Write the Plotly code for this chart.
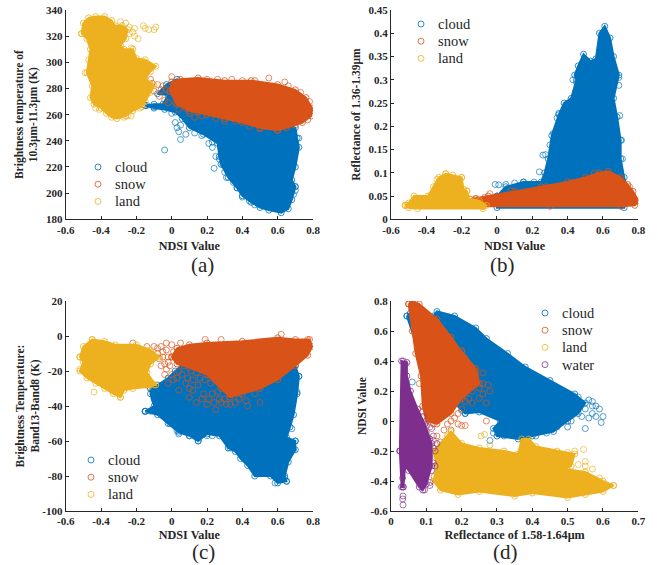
import plotly.graph_objects as go

BLUE, RED, YEL, PUR = "#0072BD", "#D95319", "#EDB120", "#7E2F8E"

# Tick labels
ndsi_ticks = ["-0.6", "-0.4", "-0.2", "0", "0.2", "0.4", "0.6", "0.8"]
a_y_ticks = ["180", "200", "220", "240", "260", "280", "300", "320", "340"]
b_y_ticks = ["0", "0.05", "0.1", "0.15", "0.2", "0.25", "0.3", "0.35", "0.4", "0.45"]
c_y_ticks = ["-100", "-80", "-60", "-40", "-20", "0", "20"]
d_x_ticks = ["0", "0.1", "0.2", "0.3", "0.4", "0.5", "0.6", "0.7"]
d_y_ticks = ["-0.6", "-0.4", "-0.2", "0", "0.2", "0.4", "0.6", "0.8"]

# Panel (a): outlines of the dense clouds and separately visible points
a_cloud_edge = [(-0.15,267),(-0.1,268),(-0.05,268),(-0.02,275),(-0.08,276),(-0.03,283),(0.03,287),(0.1,285),(0.3,270),(0.7,250),(0.71,242),(0.72,235),(0.70,220),(0.68,210),(0.70,205),(0.68,195),(0.66,188),(0.62,185),(0.55,187),(0.5,189),(0.45,193),(0.40,198),(0.37,204),(0.32,212),(0.28,222),(0.27,228),(0.26,238),(0.18,245),(0.1,250),(0.06,257),(0.02,262),(-0.04,264),(-0.1,265)]
a_cloud_pts = [(-0.04,233),(0.05,241),(0.04,247),(0.03,250),(0.05,252),(0.02,254),(0.21,238),(0.23,239),(0.23,235),(0.24,219),(0.25,228),(0.27,226),(0.29,222),(0.3,216),(0.31,212),(0.37,204),(0.4,197),(0.42,200),(0.7,205),(0.68,205),(0.72,242),(-0.14,267),(-0.1,266),(0.0,261),(0.08,245),(0.13,246),(0.17,244),(0.35,208),(0.44,194),(0.47,191),(0.7,202),(0.69,199)]
a_snow_edge = [(-0.01,278),(0.0,285),(0.05,287),(0.15,288),(0.3,286),(0.45,286),(0.6,283),(0.7,279),(0.76,273),(0.795,265),(0.79,259),(0.74,254),(0.65,250),(0.6,248),(0.5,250),(0.4,254),(0.3,257),(0.2,260),(0.1,263),(0.03,268)]
a_snow_pts = [(-0.12,287),(0.0,289),(0.1,261),(0.08,265),(0.13,258),(0.15,262),(0.04,264),(0.02,269),(-0.05,282),(-0.08,283),(-0.1,278),(-0.07,274),(-0.04,271),(-0.03,279),(0.06,273),(0.55,288),(0.64,285),(0.44,251),(0.5,249),(0.6,248),(-0.11,284),(0.17,259),(-0.06,279),(-0.02,269),(0.36,255),(0.2,287),(0.26,287),(0.34,287),(0.4,286),(0.47,286),(0.66,282),(0.73,277),(0.78,270),(0.77,256),(0.7,252),(0.25,257),(0.3,255)]
a_land_edge = [(-0.51,322),(-0.50,330),(-0.47,334),(-0.43,335),(-0.38,335),(-0.34,332),(-0.32,328),(-0.28,328),(-0.25,325),(-0.26,318),(-0.29,313),(-0.27,310),(-0.22,310),(-0.2,303),(-0.15,302),(-0.09,297),(-0.12,293),(-0.15,288),(-0.10,282),(-0.12,277),(-0.15,270),(-0.17,266),(-0.22,263),(-0.26,259),(-0.31,257),(-0.34,258),(-0.37,261),(-0.40,265),(-0.44,268),(-0.46,273),(-0.45,282),(-0.48,292),(-0.47,302),(-0.46,310),(-0.48,318)]
a_land_pts = [(-0.16,328),(-0.15,326),(-0.13,325),(-0.1,325),(-0.09,327),(-0.19,318),(-0.22,323),(-0.24,327),(-0.21,326),(-0.26,330),(-0.29,331),(-0.23,311),(-0.27,258),(-0.23,259),(-0.25,259),(-0.43,265),(-0.41,264),(-0.21,320),(-0.24,322),(-0.49,292),(-0.12,283),(-0.18,265)]

# Panel (b)
b_cloud_edge = [(0,0.05),(0.05,0.07),(0.15,0.08),(0.25,0.08),(0.27,0.1),(0.29,0.13),(0.31,0.18),(0.35,0.225),(0.38,0.25),(0.42,0.26),(0.45,0.3),(0.44,0.31),(0.46,0.33),(0.49,0.355),(0.53,0.34),(0.56,0.345),(0.58,0.4),(0.61,0.415),(0.64,0.39),(0.66,0.35),(0.69,0.31),(0.66,0.26),(0.68,0.22),(0.7,0.17),(0.7,0.13),(0.72,0.09),(0.75,0.05),(0.72,0.025),(0.0,0.025)]
b_cloud_pts = [(-0.01,0.075),(0.01,0.074),(0.05,0.075),(0.1,0.078),(0.15,0.08),(0.21,0.08),(0.24,0.102),(0.26,0.138),(0.275,0.139),(0.3,0.16),(0.32,0.185),(0.35,0.228),(0.34,0.218),(0.43,0.3),(0.45,0.295),(0.69,0.305),(0.69,0.288),(0.695,0.223),(0.705,0.17),(0.71,0.13),(0.48,0.31),(0.52,0.305)]
b_snow_edge = [(-0.2,0.04),(-0.12,0.045),(-0.05,0.05),(0.1,0.06),(0.25,0.07),(0.4,0.08),(0.5,0.09),(0.58,0.1),(0.63,0.103),(0.7,0.09),(0.74,0.075),(0.77,0.06),(0.8,0.04),(0.78,0.03),(0.7,0.028),(0.3,0.028),(-0.08,0.028),(-0.15,0.035)]
b_snow_pts = [(-0.04,0.055),(-0.07,0.047),(-0.12,0.044),(-0.15,0.043),(0.08,0.062),(0.28,0.07),(0.43,0.08),(0.55,0.099),(0.75,0.07),(0.79,0.038)]
b_land_edge = [(-0.52,0.03),(-0.5,0.035),(-0.47,0.05),(-0.39,0.05),(-0.36,0.07),(-0.33,0.09),(-0.29,0.098),(-0.25,0.095),(-0.2,0.09),(-0.19,0.065),(-0.17,0.06),(-0.16,0.045),(-0.1,0.04),(-0.06,0.03),(-0.08,0.023),(-0.45,0.023),(-0.5,0.025)]
b_land_pts = [(-0.29,0.098),(-0.2,0.09),(-0.17,0.062),(-0.51,0.03),(-0.34,0.086)]

# Panel (c)
c_cloud_edge = [(-0.15,-43),(-0.1,-40),(-0.12,-33),(-0.12,-30),(-0.08,-28),(-0.02,-24),(0.02,-20),(0.08,-15),(0.7,-17),(0.72,-23),(0.71,-33),(0.69,-45),(0.67,-52),(0.65,-58),(0.7,-60),(0.7,-65),(0.66,-72),(0.64,-80),(0.65,-83),(0.6,-84),(0.56,-80),(0.47,-80),(0.43,-74),(0.39,-70),(0.36,-66),(0.32,-64),(0.27,-57),(0.2,-56),(0.15,-60),(0.1,-57),(0.04,-55),(-0.02,-50),(-0.08,-45)]
c_cloud_pts = [(-0.15,-43),(-0.12,-43),(-0.1,-36),(-0.12,-30),(-0.01,-50),(0.04,-56),(0.1,-57),(0.15,-60),(0.2,-57),(0.23,-57),(0.28,-54),(0.33,-64),(0.38,-65),(0.41,-64),(0.42,-70),(0.585,-84),(0.64,-81),(0.65,-83),(0.7,-60),(0.69,-65),(0.72,-23),(0.71,-32),(0.68,-53),(0.03,-54),(0.14,-55)]
c_snow_edge = [(0.0,-12),(0.03,-7),(0.1,-5),(0.2,-4),(0.4,-3),(0.6,-1),(0.7,-2),(0.78,-2),(0.795,-6),(0.77,-11),(0.7,-17),(0.6,-25),(0.5,-30),(0.4,-33),(0.33,-35),(0.28,-30),(0.2,-22),(0.1,-18),(0.03,-16)]
c_snow_pts = [(-0.22,-4),(-0.14,-6),(-0.08,-7),(-0.03,-4),(0.05,-4),(0.19,-2),(0.28,-2),(0.62,1),(0.77,-2),(-0.06,-17),(-0.04,-22),(0.01,-25),(0.06,-22),(0.04,-31),(0.1,-30),(0.12,-25),(0.1,-35),(0.14,-38),(0.15,-28),(0.18,-33),(0.21,-36),(0.25,-42),(0.24,-38),(0.2,-39),(0.28,-38),(0.33,-39),(0.3,-36),(0.43,-40),(0.42,-37),(0.5,-38),(0.38,-36),(0.13,-18),(0.08,-27),(0.16,-24),(0.22,-27),(0.26,-32),(-0.02,-27),(0.47,-33),(0.04,-20),(0.07,-17),(0.09,-24),(0.03,-24),(0.14,-21),(0.19,-25),(0.12,-31),(0.17,-36),(0.23,-33),(0.27,-36),(0.31,-39),(0.36,-38),(-0.05,-12),(-0.1,-6),(0.0,-22),(0.11,-20),(0.17,-17),(0.23,-22),(-0.03,-8),(-0.06,-6),(-0.02,-12),(-0.04,-16),(-0.01,-17),(0.0,-5),(-0.08,-10),(-0.05,-9),(-0.02,-15),(0.01,-9),(-0.07,-13),(-0.03,-19)]
c_land_edge = [(-0.52,-12),(-0.5,-6),(-0.45,-2),(-0.38,-3),(-0.32,-5),(-0.2,-5),(-0.12,-8),(-0.07,-12),(-0.12,-16),(-0.14,-21),(-0.09,-28),(-0.13,-29),(-0.22,-30),(-0.27,-31),(-0.29,-35),(-0.33,-33),(-0.38,-30),(-0.43,-27),(-0.48,-24),(-0.52,-20),(-0.5,-15)]
c_land_pts = [(-0.44,-32),(-0.29,-35),(-0.1,-28),(-0.52,-19),(-0.45,-2)]

# Panel (d)
d_cloud_edge = [(0.045,0.7),(0.055,0.72),(0.12,0.7),(0.13,0.73),(0.18,0.7),(0.24,0.62),(0.27,0.55),(0.33,0.45),(0.38,0.36),(0.45,0.27),(0.52,0.18),(0.55,0.12),(0.53,0.05),(0.5,0.0),(0.46,-0.07),(0.4,-0.1),(0.36,-0.12),(0.3,-0.1),(0.29,-0.05),(0.31,0.0),(0.25,0.06),(0.21,0.05),(0.18,0.12),(0.14,0.25),(0.08,0.45)]
d_cloud_pts = [(0.06,0.26),(0.25,0.56),(0.28,0.5),(0.315,0.45),(0.355,0.37),(0.53,0.16),(0.56,0.14),(0.58,0.1),(0.6,0.03),(0.595,-0.01),(0.55,-0.05),(0.5,-0.04),(0.47,-0.04),(0.44,-0.08),(0.375,-0.15),(0.41,-0.1),(0.29,-0.08),(0.28,-0.13),(0.32,-0.1),(0.2,0.07),(0.21,0.05),(0.54,0.03),(0.52,0.09),(0.57,0.13),(0.59,0.08),(0.57,0.05),(0.56,0.02),(0.58,0.03),(0.55,0.08),(0.54,0.12),(0.57,0.1),(0.51,0.0)]
d_snow_edge = [(0.05,0.78),(0.06,0.8),(0.08,0.78),(0.13,0.68),(0.17,0.56),(0.2,0.46),(0.24,0.35),(0.25,0.25),(0.2,0.15),(0.17,0.05),(0.13,-0.02),(0.1,0.0),(0.09,0.1),(0.085,0.3),(0.07,0.45),(0.06,0.6)]
d_snow_pts = [(0.157,-0.18),(0.157,-0.22),(0.155,-0.26),(0.155,-0.34),(0.13,-0.29),(0.122,-0.37),(0.275,0.24),(0.27,0.12),(0.28,0.2),(0.26,0.18),(0.26,0.25),(0.25,0.22),(0.27,-0.0),(0.21,-0.03),(0.2,-0.03),(0.16,0.54),(0.17,0.13),(0.2,0.47),(0.21,0.42),(0.18,0.27),(0.23,0.2),(0.17,-0.06),(0.24,0.3),(0.2,0.25),(0.24,0.33),(0.23,0.27),(0.22,0.15),(0.25,0.15),(0.21,0.13),(0.19,0.05),(0.18,0.02),(0.16,-0.02),(0.15,-0.06),(0.13,-0.1),(0.12,-0.13),(0.14,-0.14),(0.11,-0.04),(0.09,0.06),(0.1,-0.08),(0.17,0.0),(0.19,-0.02),(0.2,0.08),(0.23,0.12),(0.19,0.21),(0.26,0.32),(0.08,0.25),(0.12,-0.02)]
d_land_edge = [(0.12,-0.2),(0.16,-0.1),(0.17,-0.07),(0.2,-0.15),(0.25,-0.18),(0.32,-0.2),(0.36,-0.22),(0.37,-0.12),(0.39,-0.12),(0.41,-0.17),(0.47,-0.2),(0.52,-0.22),(0.51,-0.3),(0.49,-0.32),(0.55,-0.34),(0.6,-0.4),(0.63,-0.43),(0.6,-0.47),(0.55,-0.49),(0.5,-0.51),(0.4,-0.48),(0.35,-0.5),(0.25,-0.47),(0.19,-0.49),(0.14,-0.46),(0.12,-0.4),(0.13,-0.3)]
d_land_pts = [(0.255,-0.1),(0.265,-0.09),(0.28,-0.16),(0.545,-0.19),(0.52,-0.2),(0.53,-0.29),(0.55,-0.27),(0.55,-0.3),(0.57,-0.32),(0.59,-0.38),(0.63,-0.43),(0.5,-0.21),(0.48,-0.3)]
d_water_edge = [(0.025,-0.2),(0.03,0.4),(0.045,0.39),(0.045,0.3),(0.055,0.2),(0.075,0.08),(0.095,-0.02),(0.115,-0.15),(0.115,-0.3),(0.1,-0.42),(0.09,-0.46),(0.08,-0.44),(0.05,-0.33),(0.04,-0.3),(0.035,-0.44),(0.03,-0.44)]
d_water_pts = [(0.034,-0.56),(0.033,-0.52),(0.034,-0.5),(0.034,-0.44),(0.033,-0.38),(0.04,0.38),(0.035,0.4),(0.095,-0.46),(0.11,-0.43),(0.11,-0.41),(0.12,-0.28),(0.125,-0.2),(0.11,-0.12),(0.12,-0.1),(0.13,-0.15),(0.105,-0.25),(0.115,-0.33),(0.125,-0.3),(0.1,-0.03),(0.09,0.03),(0.115,-0.05),(0.105,-0.15),(0.12,-0.18),(0.11,-0.24)]

names = {BLUE: "cloud", RED: "snow", YEL: "land", PUR: "water"}
FONT = "Liberation Serif"
INK = "#262626"

panels = [
    dict(ax="", series=[(BLUE, a_cloud_edge, a_cloud_pts), (RED, a_snow_edge, a_snow_pts), (YEL, a_land_edge, a_land_pts)],
         box=(65.7, 313, 10, 219.3), xr=(-0.6, 0.8), xd=0.2, yr=(180, 340), yd=20, xl=ndsi_ticks, yl=a_y_ticks, ys=5, xs=6,
         xt="NDSI Value", yt="Brightness temperature of<br>10.3μm-11.3μm (K)", leg=(98, 113, 167)),
    dict(ax="2", series=[(BLUE, b_cloud_edge, b_cloud_pts), (RED, b_snow_edge, b_snow_pts), (YEL, b_land_edge, b_land_pts)],
         box=(391, 638.3, 10, 219.3), xr=(-0.6, 0.8), xd=0.2, yr=(0, 0.45), yd=0.05, xl=ndsi_ticks, yl=b_y_ticks, ys=5, xs=6,
         xt="NDSI Value", yt="Reflectance of 1.36-1.39μm", leg=(421, 436, 24)),
    dict(ax="3", series=[(BLUE, c_cloud_edge, c_cloud_pts), (RED, c_snow_edge, c_snow_pts), (YEL, c_land_edge, c_land_pts)],
         box=(65.7, 313, 301, 511), xr=(-0.6, 0.8), xd=0.2, yr=(-100, 20), yd=20, xl=ndsi_ticks, yl=c_y_ticks, ys=0, xs=4,
         xt="NDSI Value", yt="Brightness Temperature:<br>Band13-Band8 (K)", leg=(91, 106, 460)),
    dict(ax="4", series=[(BLUE, d_cloud_edge, d_cloud_pts), (RED, d_snow_edge, d_snow_pts), (YEL, d_land_edge, d_land_pts), (PUR, d_water_edge, d_water_pts)],
         box=(391, 638.3, 301, 511), xr=(0, 0.7), xd=0.1, yr=(-0.6, 0.8), yd=0.2, xl=d_x_ticks, yl=d_y_ticks, ys=1, xs=4,
         xt="Reflectance of 1.58-1.64μm", yt="NDSI Value", leg=(545, 560, 313)),
]

W, H = 658, 565


def px(v):
    return v / W


def py(v):
    return 1 - v / H


fig = go.Figure()
layout = {}
anns, shapes = [], []
for i, p in enumerate(panels):
    ax = p["ax"]
    for j, (color, edge, pts) in enumerate(p["series"]):
        ex, ey = [v[0] for v in edge] + [edge[0][0]], [v[1] for v in edge] + [edge[0][1]]
        fig.add_trace(go.Scatter(x=ex, y=ey, mode="lines+markers", fill="toself", fillcolor=color,
                                 line=dict(color=color, width=2),
                                 marker=dict(symbol="circle-open", size=6, color=color, line=dict(width=0.8)),
                                 showlegend=False, xaxis="x" + ax, yaxis="y" + ax, hoverinfo="skip"))
        fig.add_trace(go.Scatter(x=[v[0] for v in pts], y=[v[1] for v in pts], mode="markers", name=names[color],
                                 marker=dict(symbol="circle-open", size=6, color=color, line=dict(width=0.8), opacity=0.85),
                                 showlegend=False, xaxis="x" + ax, yaxis="y" + ax))
        mx, tx, ly = p["leg"]
        cy = ly + j * 17.2
        shapes.append(dict(type="circle", xref="paper", yref="paper", x0=px(mx - 3), x1=px(mx + 3),
                           y0=py(cy + 3), y1=py(cy - 3), line=dict(color=color, width=0.8)))
        anns.append(dict(text=names[color], x=px(tx), y=py(cy), xref="paper", yref="paper", showarrow=False,
                         xanchor="left", yanchor="middle", font=dict(family=FONT, size=14.5, color=INK)))
    common = dict(automargin=False, showline=True, linecolor=INK, linewidth=1, ticks="inside", ticklen=3, tickcolor=INK,
                  showgrid=False, zeroline=False, tickfont=dict(family=FONT, size=11, color=INK, weight="bold"))
    x0, x1, y0, y1 = p["box"]
    xvals = [p["xr"][0] + k * p["xd"] for k in range(len(p["xl"]))]
    yvals = [p["yr"][0] + k * p["yd"] for k in range(len(p["yl"]))]
    layout["xaxis" + ax] = dict(common, domain=(px(x0), px(x1)), range=p["xr"], tickvals=xvals, ticktext=p["xl"],
                                anchor="y" + ax, title=dict(text="<b>%s</b>" % p["xt"], standoff=p["xs"], font=dict(family=FONT, size=12.2, color=INK)))
    layout["yaxis" + ax] = dict(common, domain=(py(y1), py(y0)), range=p["yr"], tickvals=yvals, ticktext=p["yl"],
                                anchor="x" + ax, title=dict(text="<b>%s</b>" % p["yt"], standoff=p["ys"], font=dict(family=FONT, size=11.5, color=INK)))

labels = [("(a)", 189, 265), ("(b)", 517, 265), ("(c)", 190, 552), ("(d)", 520, 552)]
anns += [dict(text=t, x=px(x), y=py(y), xref="paper", yref="paper", showarrow=False, yanchor="middle",
              font=dict(family=FONT, size=21, color=INK)) for t, x, y in labels]

fig.update_layout(width=W, height=H, margin=dict(l=0, r=0, t=0, b=0), plot_bgcolor="white", paper_bgcolor="white",
                  showlegend=False, annotations=anns, shapes=shapes, **layout)
fig.write_html("out.html", config={"displayModeBar": False},
               post_script="document.body.style.margin='0';document.body.style.overflow='hidden';")
